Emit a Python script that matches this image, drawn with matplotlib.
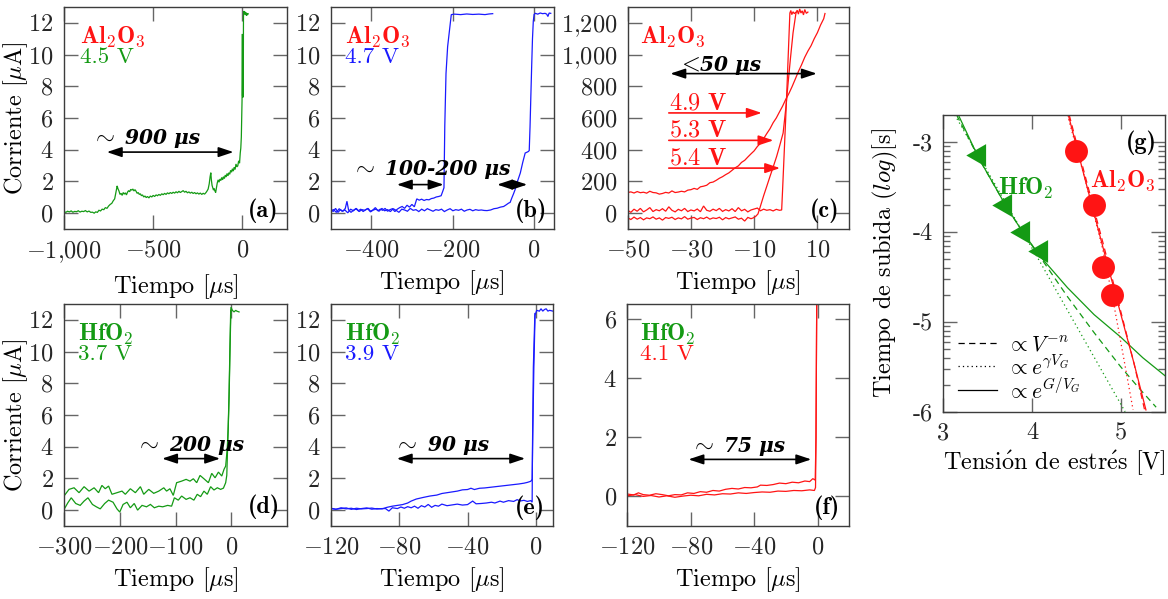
import matplotlib
matplotlib.use("Agg")
import matplotlib.pyplot as plt
from matplotlib.lines import Line2D
from matplotlib.ticker import FixedLocator, FuncFormatter, FixedFormatter
import numpy as np

plt.rcParams.update({
    "font.family": ["cmr10", "DejaVu Serif"],
    "mathtext.fontset": "cm",
    "axes.formatter.use_mathtext": True,
    "axes.unicode_minus": True,
    "font.size": 17.5,
})

GREEN = "#149a14"
BLUE = "#1a1aff"
RED = "#ff1414"
TICK_TXT = "#262626"
FRAME = "#3c3c3c"
TICK = "#666666"
FS = 17.5

# ---------------------------------------------------------------- data
# (a) Al2O3, 4.5 V : (time [us], current [uA])
trace_a = [(-1000, 0.10), (-990, 0.05), (-980, 0.12), (-970, 0.08), (-960, 0.14), (-950, 0.06),
           (-940, 0.11), (-930, 0.09), (-920, 0.15), (-910, 0.07), (-900, 0.12), (-890, 0.10),
           (-880, 0.16), (-870, 0.08), (-860, 0.13), (-850, 0.05), (-840, 0.06), (-831, 0.0),
           (-822, 0.08), (-813, 0.05), (-804, 0.18), (-795, 0.14), (-786, 0.25), (-777, 0.22),
           (-768, 0.35), (-759, 0.30), (-750, 0.45), (-741, 0.55), (-732, 0.62), (-724, 0.78),
           (-716, 0.90), (-708, 1.35), (-702, 1.72), (-698, 1.55), (-692, 1.40), (-686, 1.18),
           (-680, 1.25), (-674, 1.12), (-668, 1.30), (-662, 1.20), (-656, 1.28), (-650, 1.15),
           (-644, 1.32), (-638, 1.42), (-632, 1.35), (-626, 1.50), (-620, 1.45), (-614, 1.52),
           (-608, 1.40), (-602, 1.48), (-596, 1.38), (-590, 1.25), (-584, 1.30), (-578, 1.18),
           (-572, 1.22), (-566, 1.10), (-560, 1.15), (-553, 1.02), (-546, 1.08), (-539, 0.98),
           (-532, 1.05), (-524, 0.96), (-516, 1.08), (-508, 1.02), (-500, 1.12), (-492, 1.05),
           (-484, 1.15), (-476, 1.10), (-468, 1.18), (-460, 1.12), (-452, 1.22), (-444, 1.16),
           (-436, 1.25), (-428, 1.18), (-420, 1.28), (-412, 1.22), (-404, 1.30), (-396, 1.24),
           (-388, 1.32), (-380, 1.26), (-372, 1.35), (-364, 1.28), (-356, 1.38), (-348, 1.30),
           (-340, 1.36), (-332, 1.42), (-324, 1.32), (-316, 1.38), (-308, 1.28), (-300, 1.34),
           (-292, 1.26), (-284, 1.32), (-276, 1.24), (-268, 1.30), (-260, 1.22), (-252, 1.28),
           (-244, 1.20), (-236, 1.27), (-228, 1.18), (-220, 1.25), (-212, 1.20), (-204, 1.30),
           (-198, 1.40), (-192, 1.52), (-186, 1.85), (-181, 2.30), (-177, 2.55), (-174, 2.10),
           (-170, 1.75), (-166, 1.60), (-162, 1.45), (-158, 1.55), (-154, 1.40), (-150, 1.30),
           (-146, 1.55), (-141, 1.90), (-136, 2.10), (-131, 1.95), (-126, 2.15), (-121, 2.05),
           (-116, 2.25), (-111, 2.10), (-106, 2.30), (-101, 2.18), (-96, 2.40), (-91, 2.28),
           (-86, 2.50), (-81, 2.35), (-76, 2.55), (-71, 2.45), (-66, 2.70), (-61, 2.58),
           (-56, 2.80), (-51, 2.65), (-46, 2.90), (-41, 2.75), (-36, 3.10), (-31, 2.92),
           (-26, 2.98), (-21, 3.30), (-16, 3.15), (-12, 3.80), (-9, 4.10), (-6, 4.80),
           (-4, 5.80), (-2, 7.10), (-1, 9.0), (0, 11.3), (1, 7.4), (2, 11.2), (3, 7.3),
           (4, 11.0), (5, 8.0), (6, 12.4), (8, 12.75), (11, 12.55), (14, 12.7), (17, 12.5),
           (20, 12.65), (23, 12.45), (26, 12.6), (29, 12.5), (32, 12.58)]

# (b) Al2O3, 4.7 V : two runs
trace_b1 = [(-500, 0.25), (-494, 0.10), (-488, 0.30), (-482, 0.05), (-476, 0.22), (-470, 0.12),
            (-464, 0.30), (-460, 0.75), (-456, 0.20), (-450, 0.05), (-444, 0.18), (-438, 0.28),
            (-432, 0.15), (-426, 0.25), (-420, 0.10), (-414, 0.22), (-408, 0.30), (-402, 0.12),
            (-396, 0.20), (-390, 0.35), (-384, 0.15), (-378, 0.25), (-372, 0.18), (-366, 0.30),
            (-360, 0.12), (-354, 0.22), (-348, 0.28), (-342, 0.10), (-336, 0.25), (-330, 0.35),
            (-324, 0.42), (-318, 0.30), (-312, 0.50), (-306, 0.38), (-300, 0.55), (-294, 0.40),
            (-288, 0.90), (-282, 0.82), (-276, 0.88), (-270, 0.80), (-264, 0.86), (-258, 0.84),
            (-252, 0.92), (-246, 0.95), (-240, 1.02), (-234, 1.05), (-228, 1.10), (-224, 1.38),
            (-221, 1.60), (-219, 5.5), (-216, 8.8), (-212, 10.5), (-208, 11.4), (-203, 12.52),
            (-195, 12.55), (-180, 12.52), (-165, 12.56), (-150, 12.53), (-135, 12.55),
            (-120, 12.52), (-110, 12.56), (-101, 12.58)]
trace_b2 = [(-500, 0.15), (-493, 0.22), (-486, 0.05), (-479, 0.28), (-472, 0.12), (-465, 0.20),
            (-458, 0.02), (-451, 0.25), (-444, 0.15), (-437, 0.30), (-430, 0.10), (-423, 0.22),
            (-416, 0.18), (-409, 0.28), (-402, 0.08), (-395, 0.20), (-388, 0.25), (-381, 0.12),
            (-374, 0.30), (-367, 0.15), (-360, 0.22), (-353, 0.10), (-346, 0.28), (-339, 0.18),
            (-332, 0.05), (-325, 0.25), (-318, 0.20), (-311, 0.12), (-304, 0.30), (-297, 0.18),
            (-290, 0.22), (-283, 0.10), (-276, 0.25), (-269, 0.15), (-262, 0.28), (-255, 0.20),
            (-248, 0.12), (-241, 0.22), (-234, 0.18), (-227, 0.25), (-220, 0.10), (-213, 0.20),
            (-206, 0.28), (-199, 0.15), (-192, 0.22), (-185, 0.18), (-178, 0.25), (-171, 0.12),
            (-164, 0.20), (-157, 0.24), (-150, 0.15), (-143, 0.22), (-136, 0.18), (-129, 0.20),
            (-122, 0.17), (-115, 0.16), (-106, 0.20), (-98, 0.28), (-90, 0.31), (-82, 0.38),
            (-74, 0.42), (-68, 0.52), (-62, 0.63), (-58, 0.68), (-54, 0.95), (-50, 1.20),
            (-46, 1.47), (-40, 2.0), (-33, 2.53), (-27, 3.2), (-21, 3.79), (-16, 3.85),
            (-13, 3.89), (-11, 3.95), (-9, 5.47), (-7, 7.4), (-5, 9.26), (-3, 11.0), (-1, 12.1),
            (1, 12.53), (4, 12.6), (10, 12.55), (16, 12.62), (22, 12.58), (28, 12.6), (32, 12.55),
            (35, 12.40), (38, 12.62), (42, 12.6)]

# (c) Al2O3 at 4.9, 5.3 and 5.4 V
trace_c_49 = [(-50, 130), (-49, 134), (-48, 127), (-47, 136), (-46, 129), (-45, 132), (-44, 126),
              (-43, 138), (-42, 130), (-41, 128), (-40, 120), (-39, 124), (-38, 131), (-37, 127),
              (-36, 140), (-35, 130), (-34, 133), (-33, 138), (-32, 134), (-31, 145), (-30, 148),
              (-29, 156), (-28, 150), (-27, 166), (-26, 170), (-25, 176), (-24, 192), (-23, 196),
              (-22, 207), (-21, 220), (-20, 230), (-19, 243), (-18, 254), (-17, 270), (-16, 286),
              (-15, 298), (-14, 320), (-13, 333), (-12, 354), (-11, 374), (-10, 393), (-9, 420),
              (-8, 441), (-7, 470), (-6, 502), (-5, 532), (-4, 570), (-3, 600), (-2, 638),
              (-1, 675), (0, 718), (1, 755), (2, 798), (3, 845), (4, 893), (5, 936), (6, 983),
              (7, 1022), (8, 1056), (9, 1100), (10, 1138), (11, 1186), (12, 1226), (12.4, 1259)]
trace_c_53 = [(-50, 18), (-49, 5), (-48, 25), (-47, 12), (-46, 30), (-45, 8), (-44, 20), (-43, 35),
              (-42, 10), (-41, 22), (-40, 15), (-39, 28), (-38, 12), (-37, 40), (-36, 18), (-35, 8),
              (-34, 24), (-33, 15), (-32, 30), (-31, 10), (-30, 20), (-29, 14), (-28, 26), (-27, 9),
              (-26, 45), (-25, 18), (-24, 12), (-23, 25), (-22, 16), (-21, 30), (-20, 11), (-19, 22),
              (-18, 14), (-17, 28), (-16, 10), (-15, 35), (-14, 15), (-13, 24), (-12, 8), (-11, 20),
              (-10, 26), (-9, 32), (-8, 15), (-7, 25), (-6, 18), (-5, 22), (-4, 14), (-3, 24),
              (-2, 18), (-1.3, 20), (-1.0, 150), (0.2, 700), (1.3, 1262), (1.6, 1278), (1.9, 1252),
              (2.3, 1270), (2.7, 1258), (3.1, 1266)]
trace_c_54 = [(-50, -30), (-49, -40), (-48, -25), (-47, -38), (-46, -28), (-45, -42), (-44, -30),
              (-43, -35), (-42, -24), (-41, -38), (-40, -30), (-39, -44), (-38, -28), (-37, -33),
              (-36, -26), (-35, -40), (-34, -30), (-33, -36), (-32, -22), (-31, -38), (-30, -31),
              (-29, -27), (-28, -40), (-27, -29), (-26, -35), (-25, -25), (-24, -38), (-23, -30),
              (-22, -34), (-21, -26), (-20, -42), (-19, -28), (-18, -36), (-17, -30), (-16, -24),
              (-15, -38), (-14, -32), (-13, -50), (-12, -27), (-11, -35), (-10.3, -30), (-9.5, -20),
              (-8.8, -5), (-8.2, 32), (-7, 110), (-6, 170), (-5, 231), (-4, 290), (-2.9, 357),
              (-2, 420), (-0.84, 505), (0, 660), (0.74, 821), (1.5, 980), (2.3, 1137), (3.2, 1259),
              (3.6, 1280), (4, 1255), (4.4, 1288), (4.8, 1262), (5.2, 1276), (5.6, 1250), (6, 1284),
              (6.5, 1260), (7, 1268)]

# (d) HfO2, 3.7 V
trace_d1 = [(-300, 0.89), (-291, 1.31), (-282, 1.41), (-273, 1.10), (-264, 1.48), (-255, 1.20),
            (-246, 1.41), (-238, 1.10), (-232, 1.56), (-226, 1.35), (-220, 1.52), (-214, 1.00),
            (-205, 1.10), (-196, 1.20), (-190, 1.00), (-181, 1.35), (-172, 1.10), (-163, 1.48),
            (-157, 1.00), (-148, 1.31), (-139, 1.06), (-130, 1.20), (-121, 1.41), (-116, 1.20),
            (-110, 1.35), (-104, 0.93), (-98, 1.73), (-89, 1.83), (-81, 1.94), (-74, 1.83),
            (-68, 1.98), (-62, 1.73), (-56, 2.19), (-49, 1.98), (-41, 1.73), (-35, 2.32),
            (-29, 2.04), (-23, 2.40), (-17, 2.15), (-13, 2.57), (-10, 2.78), (-7.3, 3.84),
            (-5.5, 5.1), (-4.5, 6.3), (-3.6, 7.6), (-2, 10.5), (-0.5, 12.8), (2, 12.6), (5, 12.5),
            (8, 12.6), (10, 12.55), (14, 12.5)]
trace_d2 = [(-300, 0.04), (-293, 0.47), (-287, 0.78), (-279, 0.42), (-271, 0.30), (-264, 0.57),
            (-257, 0.78), (-249, 0.36), (-242, 0.21), (-235, 0.08), (-227, 0.42), (-220, 0.63),
            (-212, 0.50), (-205, 0.08), (-200, -0.12), (-194, 0.36), (-187, 0.50), (-181, 0.15),
            (-174, 0.42), (-168, 0.00), (-160, 0.30), (-152, 0.21), (-145, 0.36), (-138, 0.15),
            (-130, 0.25), (-123, 0.21), (-114, 0.30), (-107, 0.25), (-102, 0.78), (-95, 0.63),
            (-89, 0.89), (-81, 0.68), (-74, 0.78), (-67, 0.63), (-61, 1.00), (-55, 0.85),
            (-49, 1.20), (-43, 1.00), (-37, 1.48), (-31, 1.27), (-25, 1.41), (-19, 1.31),
            (-14, 1.39), (-10, 1.73), (-8, 2.2), (-6, 4.6), (-4, 7.2), (-2.5, 10.0), (-1, 12.6)]

# (e) HfO2, 3.9 V
trace_e1 = [(-120, 0.10), (-117, 0.05), (-114, 0.15), (-111, 0.08), (-108, 0.12), (-105, 0.04),
            (-102, 0.10), (-99, 0.14), (-96, 0.06), (-93, 0.10), (-90, 0.08), (-87, 0.18),
            (-84, 0.25), (-81, 0.30), (-78, 0.35), (-75, 0.45), (-73, 0.57), (-70, 0.70),
            (-66, 0.80), (-62, 0.89), (-58, 0.95), (-55, 1.05), (-52, 1.10), (-49, 1.15),
            (-46, 1.20), (-43, 1.28), (-40, 1.30), (-38, 1.38), (-36, 1.30), (-33, 1.38),
            (-30, 1.40), (-26, 1.45), (-22, 1.50), (-18, 1.55), (-14, 1.60), (-10, 1.65),
            (-7, 1.70), (-5, 1.75), (-3, 1.82), (-2.2, 1.94), (-1.8, 5.0), (-1.2, 9.0),
            (-0.5, 12.3), (0.5, 12.6), (2, 12.55), (3, 12.7), (4, 12.55), (5, 12.65), (6, 12.7),
            (7, 12.55), (8, 12.6), (10, 12.55)]
trace_e2 = [(-120, 0.12), (-117, 0.06), (-114, 0.10), (-111, 0.14), (-108, 0.05), (-105, 0.12),
            (-102, 0.08), (-99, 0.10), (-96, 0.13), (-93, 0.07), (-90, 0.10), (-88, 0.10),
            (-86, -0.06), (-84, 0.15), (-81, 0.10), (-79, 0.20), (-77, 0.12), (-75, 0.22),
            (-73, 0.15), (-71, 0.25), (-69, 0.12), (-67, 0.28), (-65, 0.20), (-63, 0.36),
            (-61, 0.18), (-59, 0.30), (-57, 0.25), (-55, 0.38), (-52, 0.28), (-49, 0.33),
            (-46, 0.38), (-43, 0.32), (-40, 0.35), (-37, 0.57), (-35, 0.40), (-32, 0.42),
            (-29, 0.45), (-26, 0.50), (-24, 0.45), (-21, 0.57), (-19, 0.50), (-16, 0.60),
            (-13, 0.55), (-11, 0.66), (-9, 0.58), (-7, 0.62), (-5, 0.55), (-3, 0.60), (-2.2, 0.50),
            (-2.0, 4.0), (-1.5, 9.0), (-0.6, 12.4)]

# (f) HfO2, 4.1 V
trace_f1 = [(-120, 0.08), (-116, 0.05), (-113, 0.12), (-110, 0.06), (-106, 0.04), (-102, 0.09),
            (-98, 0.06), (-94, 0.02), (-90, 0.06), (-86, 0.05), (-82, 0.12), (-78, 0.10),
            (-74, 0.16), (-70, 0.14), (-66, 0.20), (-62, 0.18), (-58, 0.24), (-54, 0.27),
            (-50, 0.25), (-46, 0.30), (-42, 0.29), (-38, 0.32), (-36, 0.38), (-32, 0.37),
            (-28, 0.40), (-24, 0.45), (-20, 0.43), (-16, 0.48), (-12, 0.46), (-8, 0.52),
            (-5, 0.50), (-3, 0.60), (-1.5, 0.55), (-1, 2.0), (-0.6, 6.0), (-0.2, 12.6)]
trace_f2 = [(-120, 0.02), (-115, 0.06), (-110, 0.00), (-105, 0.03), (-100, -0.02), (-95, 0.02),
            (-90, -0.03), (-85, 0.01), (-80, 0.04), (-75, 0.02), (-70, 0.07), (-65, 0.05),
            (-60, 0.09), (-55, 0.08), (-50, 0.12), (-45, 0.10), (-40, 0.13), (-35, 0.15),
            (-30, 0.14), (-25, 0.18), (-20, 0.17), (-15, 0.20), (-10, 0.19), (-5, 0.22),
            (-2, 0.20), (-1.3, 0.30), (-1.0, 2.0), (-0.6, 6.0), (-0.2, 12.6)]

# (g) rise time vs. stress voltage (log10 of seconds)
hfo2_voltage = [3.4, 3.7, 3.9, 4.1]
hfo2_log_rise = [-3.15, -3.70, -4.00, -4.21]
al2o3_voltage = [4.5, 4.7, 4.8, 4.9]
al2o3_log_rise = [-3.10, -3.70, -4.39, -4.70]

# fitted models, as traced curves (voltage, log10 rise time)
hfo2_fit_power = [(3.15, -2.70), (3.4, -3.18), (3.7, -3.70), (3.9, -4.01), (4.1, -4.29),
                  (4.4, -4.72), (4.7, -5.12), (5.0, -5.50), (5.2, -5.73), (5.4, -5.95)]
hfo2_fit_exp = [(3.13, -2.70), (4.1, -4.35), (5.05, -6.0)]
hfo2_fit_inv = [(3.17, -2.70), (3.4, -3.18), (3.7, -3.70), (3.9, -4.01), (4.1, -4.28),
                (4.4, -4.62), (4.7, -4.92), (5.0, -5.17), (5.25, -5.40), (5.5, -5.60)]
al2o3_fit_power = [(4.42, -2.70), (4.6, -3.38), (4.8, -4.12), (5.0, -4.88), (5.15, -5.46),
                   (5.27, -5.98)]
al2o3_fit_exp = [(4.40, -2.70), (4.6, -3.42), (4.8, -4.20), (4.92, -4.79), (5.03, -5.38),
                 (5.14, -5.98)]
al2o3_fit_inv = [(4.41, -2.70), (4.6, -3.42), (4.8, -4.17), (5.0, -4.91), (5.15, -5.46),
                 (5.285, -5.98)]


# ---------------------------------------------------------------- helpers
def sep_fmt(v, pos):
    n = int(round(v))
    body = f"{abs(n):,}".replace(",", "{,}")
    return f"$-{body}$" if n < 0 else f"${body}$"


def style_frame(ax):
    ax.tick_params(which="both", direction="in", top=True, right=True, color=TICK,
                   width=1.0, labelcolor=TICK_TXT, labelsize=FS, pad=7.5)
    ax.tick_params(which="major", length=10)
    ax.tick_params(which="minor", length=5)
    for s in ax.spines.values():
        s.set_color(FRAME)
        s.set_linewidth(1.0)


def frame(ax, xlim, ylim, xticks, yticks):
    ax.set_xlim(*xlim)
    ax.set_ylim(*ylim)
    ax.xaxis.set_major_locator(FixedLocator(xticks))
    ax.yaxis.set_major_locator(FixedLocator(yticks))
    ax.xaxis.set_major_formatter(FuncFormatter(sep_fmt))
    ax.yaxis.set_major_formatter(FuncFormatter(sep_fmt))
    style_frame(ax)


def trace(ax, pts, color):
    t, v = zip(*pts)
    ax.plot(t, v, color=color, lw=0.9, solid_joinstyle="miter")


def span(ax, x0, x1, y, color="black", style="<|-|>"):
    ax.annotate("", xy=(x1, y), xytext=(x0, y),
                arrowprops=dict(arrowstyle=f"{style},head_length=0.9,head_width=0.3",
                                lw=1.2, color=color, shrinkA=0, shrinkB=0,
                                mutation_scale=10))


def timing(ax, x_sym, x_txt, y, txt, sym=r"$\sim$"):
    ax.text(x_sym, y, sym, ha="center", va="baseline", fontsize=FS)
    ax.text(x_txt, y, txt, ha="left", va="baseline", fontsize=14.5,
            family="DejaVu Serif", style="italic", weight="bold")


def heading(ax, x, material, mat_color, volt, volt_color):
    ax.text(x, 0.865, material, transform=ax.transAxes, ha="left", va="center",
            color=mat_color, fontsize=FS)
    ax.text(x, 0.772, volt, transform=ax.transAxes, ha="left", va="center",
            color=volt_color, fontsize=16.5)


def tag(ax, x, y, s):
    ax.text(x, y, s, transform=ax.transAxes, ha="right", va="center", fontsize=FS,
            family="cmb10")


AL2O3 = r"$\mathbf{Al}_{\mathbf{2}}\mathbf{O}_{\mathbf{3}}$"
HFO2 = r"$\mathbf{HfO}_{\mathbf{2}}$"
XLAB = r"Tiempo [$\mu$s]"
YLAB = r"Corriente [$\mu$A]"

fig = plt.figure(figsize=(11.68, 5.99), dpi=100)
W, H = 1168.0, 599.0


def axes_px(left, right, top, bottom):
    return fig.add_axes([left / W, (H - bottom) / H, (right - left) / W, (bottom - top) / H])


cur_ticks = [0, 2, 4, 6, 8, 10, 12]
XPAD = 5
YPAD = -1

# (a)
ax = axes_px(64, 287, 7, 229)
frame(ax, (-1000, 250), (-1, 13), [-1000, -500, 0], cur_ticks)
trace(ax, trace_a, GREEN)
span(ax, -760, -50, 3.85)
timing(ax, -781, -657, 4.34, "900 μs")
heading(ax, 0.072, AL2O3, RED, "4.5 V", GREEN)
tag(ax, 0.962, 0.082, "(a)")
ax.set_xlabel(XLAB, fontsize=FS, labelpad=XPAD)
ax.set_ylabel(YLAB, fontsize=FS, labelpad=YPAD)

# (b)
ax = axes_px(330.7, 554, 7, 229)
frame(ax, (-500, 50), (-1, 13), [-400, -200, 0], cur_ticks)
trace(ax, trace_b1, BLUE)
trace(ax, trace_b2, BLUE)
span(ax, -337, -222, 1.8)
span(ax, -90, -16, 1.8)
timing(ax, -420, -366, 2.42, "100-200 μs")
heading(ax, 0.064, AL2O3, RED, "4.7 V", BLUE)
tag(ax, 0.969, 0.082, "(b)")
ax.set_xlabel(XLAB, fontsize=FS, labelpad=XPAD)

# (c)
ax = axes_px(627.7, 849, 7, 229)
frame(ax, (-50, 20), (-100, 1300), [-50, -30, -10, 10], [0, 200, 400, 600, 800, 1000, 1200])
trace(ax, trace_c_49, RED)
trace(ax, trace_c_53, RED)
trace(ax, trace_c_54, RED)
span(ax, -36.5, 9.8, 880)
timing(ax, -30.9, -27.2, 899, "50 μs", sym=r"$<$")
for volt, y_arrow, x_tip in [("4.9", 632, -7.6), ("5.3", 459, -3.9), ("5.4", 284, -1.8)]:
    span(ax, -37.0, x_tip, y_arrow, color=RED, style="-|>")
    ax.text(-37.0, y_arrow + 22, rf"${volt}\ \mathbf{{V}}$", ha="left", va="baseline",
            color=RED, fontsize=FS)
ax.text(0.056, 0.865, AL2O3, transform=ax.transAxes, ha="left", va="center",
        color=RED, fontsize=FS)
tag(ax, 0.959, 0.082, "(c)")
ax.set_xlabel(XLAB, fontsize=FS, labelpad=XPAD)

# (d)
ax = axes_px(64, 287, 304, 526)
frame(ax, (-300, 100), (-1, 13), [-300, -200, -100, 0], cur_ticks)
trace(ax, trace_d1, GREEN)
trace(ax, trace_d2, GREEN)
span(ax, -124, -20, 3.25)
timing(ax, -151, -112, 3.73, "200 μs")
heading(ax, 0.063, HFO2, GREEN, "3.7 V", GREEN)
tag(ax, 0.969, 0.087, "(d)")
ax.set_xlabel(XLAB, fontsize=FS, labelpad=XPAD)
ax.set_ylabel(YLAB, fontsize=FS, labelpad=YPAD)

# (e)
ax = axes_px(330.8, 553, 304, 526)
frame(ax, (-120, 10), (-1, 13), [-120, -80, -40, 0], cur_ticks)
trace(ax, trace_e1, BLUE)
trace(ax, trace_e2, BLUE)
span(ax, -81.4, -6.3, 3.25)
timing(ax, -76.5, -62.9, 3.73, "90 μs")
heading(ax, 0.064, HFO2, GREEN, "3.9 V", BLUE)
tag(ax, 0.964, 0.081, "(e)")
ax.set_xlabel(XLAB, fontsize=FS, labelpad=XPAD)

# (f)
ax = axes_px(627.3, 849.3, 304, 526)
frame(ax, (-120, 20), (-1, 6.5), [-120, -80, -40, 0], [0, 2, 4, 6])
trace(ax, trace_f1, RED)
trace(ax, trace_f2, RED)
span(ax, -81.4, -4.0, 1.25)
timing(ax, -73, -59.3, 1.5, "75 μs")
heading(ax, 0.057, HFO2, GREEN, "4.1 V", RED)
tag(ax, 0.957, 0.081, "(f)")
ax.set_xlabel(XLAB, fontsize=FS, labelpad=XPAD)

# (g)
ax = axes_px(943.3, 1165, 115, 411.7)
ax.set_xlim(3, 5.5)
ax.set_ylim(-6, -2.7)
ax.xaxis.set_major_locator(FixedLocator([3, 4, 5]))
ax.xaxis.set_major_formatter(FixedFormatter(["3", "4", "5"]))
ax.yaxis.set_major_locator(FixedLocator([-6, -5, -4, -3]))
ax.yaxis.set_major_formatter(FixedFormatter(["-6", "-5", "-4", "-3"]))
minor = [d + np.log10(k) for d in (-6, -5, -4, -3) for k in range(2, 10)]
ax.yaxis.set_minor_locator(FixedLocator([m for m in minor if m < -2.7]))
style_frame(ax)

for pts, color, ls in [(hfo2_fit_power, GREEN, (0, (5, 3.5))), (hfo2_fit_exp, GREEN, (0, (1, 2.5))),
                       (hfo2_fit_inv, GREEN, "-"), (al2o3_fit_power, RED, (0, (5, 3.5))),
                       (al2o3_fit_exp, RED, (0, (1, 2.5))), (al2o3_fit_inv, RED, "-")]:
    v, lt = zip(*pts)
    ax.plot(v, lt, color=color, lw=0.9, ls=ls)

tri_left = [(-40 / 3, 0), (20 / 3, -11.5), (20 / 3, 11.5)]
ax.plot(hfo2_voltage, hfo2_log_rise, ls="none", marker=tri_left, ms=19, color=GREEN,
        markeredgewidth=0, zorder=4)
ax.plot(al2o3_voltage, al2o3_log_rise, ls="none", marker="o", ms=16.5, color=RED,
        markeredgewidth=0, zorder=4)

ax.text(0.247, 0.754, HFO2, transform=ax.transAxes, ha="left", va="center",
        color=GREEN, fontsize=FS)
ax.text(0.662, 0.779, AL2O3, transform=ax.transAxes, ha="left", va="center",
        color=RED, fontsize=FS)
ax.text(0.963, 0.906, "(g)", transform=ax.transAxes, ha="right", va="center",
        fontsize=FS, family="cmb10")

for ls, lab, yax in [((0, (5, 3.5)), r"$\propto V^{-n}$", 0.232),
                     ((0, (1, 2.5)), r"$\propto e^{\gamma V_G}$", 0.154),
                     ("-", r"$\propto e^{G/V_G}$", 0.074)]:
    ax.add_line(Line2D([0.066, 0.242], [yax, yax], transform=ax.transAxes,
                       color="black", ls=ls, lw=0.9))
    ax.text(0.287, yax - 0.03, lab, transform=ax.transAxes, ha="left", va="baseline",
            fontsize=15.5)

ax.set_xlabel(r"Tensi$\mathrm{\acute{o}}$n de estr$\mathrm{\acute{e}}$s [V]", fontsize=FS,
              labelpad=3)
ax.set_ylabel(r"Tiempo de subida ($log$)[s]", fontsize=FS, labelpad=9)

fig.savefig("out.png", dpi=100)
